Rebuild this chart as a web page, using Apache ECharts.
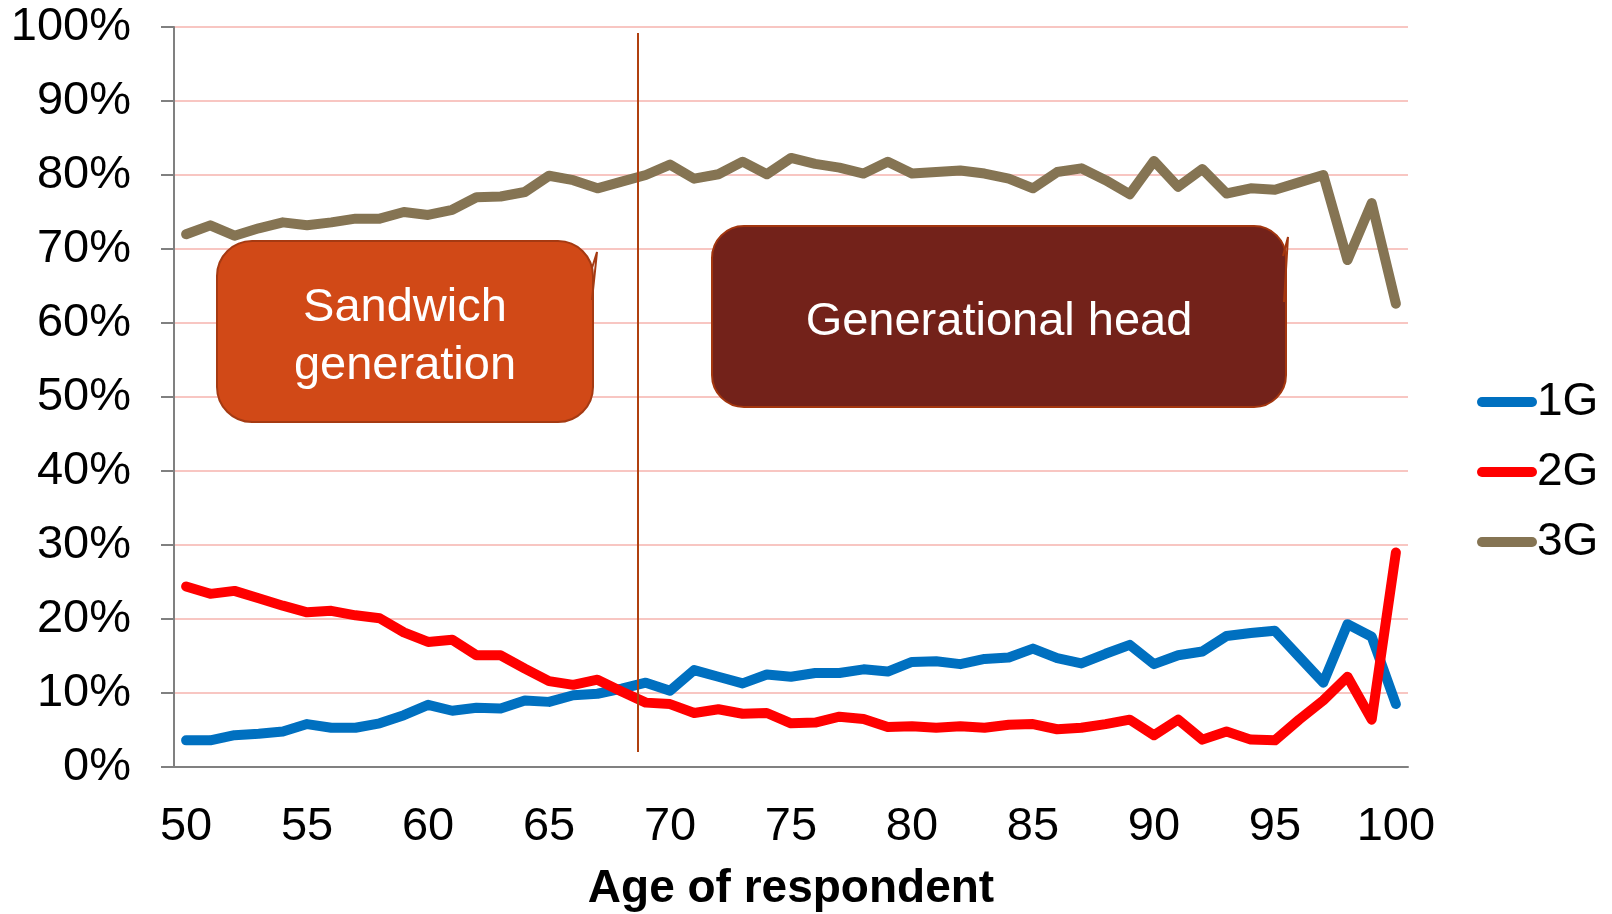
<!DOCTYPE html>
<html>
<head>
<meta charset="utf-8">
<script src="https://cdn.jsdelivr.net/npm/echarts@6/dist/echarts.min.js"></script>
<style>
    html, body { margin: 0; padding: 0; background: #fff; }
    #chart { width: 1612px; height: 914px; }
</style>
</head>
<body>
<div id="chart"></div>
<script>
    // ages on the x axis
    const ages = ['50','51','52','53','54','55','56','57','58','59',
                  '60','61','62','63','64','65','66','67','68','69',
                  '70','71','72','73','74','75','76','77','78','79',
                  '80','81','82','83','84','85','86','87','88','89',
                  '90','91','92','93','94','95','96','97','98','99','100'];

    // share of respondents (%) per generation position
    const gen1 = [3.6, 3.6, 4.3, 4.5, 4.8, 5.8, 5.3, 5.3, 5.9, 7.0,
                  8.4, 7.6, 8.0, 7.9, 9.0, 8.8, 9.7, 9.9, 10.6, 11.4,
                  10.3, 13.1, 12.2, 11.3, 12.5, 12.2, 12.7, 12.7, 13.2, 12.9,
                  14.2, 14.3, 13.9, 14.6, 14.8, 16.0, 14.7, 14.0, 15.3, 16.5,
                  13.9, 15.1, 15.6, 17.7, 18.1, 18.4, 14.9, 11.4, 19.3, 17.6, 8.5];
    const gen2 = [24.4, 23.4, 23.8, 22.8, 21.8, 20.9, 21.1, 20.5, 20.1, 18.2,
                  16.9, 17.2, 15.1, 15.1, 13.3, 11.6, 11.1, 11.8, 10.2, 8.7,
                  8.5, 7.3, 7.8, 7.2, 7.3, 5.9, 6.0, 6.8, 6.5, 5.4,
                  5.5, 5.3, 5.5, 5.3, 5.7, 5.8, 5.1, 5.3, 5.8, 6.4,
                  4.3, 6.4, 3.7, 4.8, 3.7, 3.6, 6.4, 9.0, 12.2, 6.4, 29.0];
    const gen3 = [72.0, 73.2, 71.8, 72.8, 73.6, 73.2, 73.6, 74.1, 74.1, 75.0,
                  74.6, 75.3, 77.0, 77.1, 77.7, 79.9, 79.3, 78.2, 79.1, 80.0,
                  81.4, 79.5, 80.1, 81.8, 80.1, 82.3, 81.5, 81.0, 80.2, 81.8,
                  80.2, 80.4, 80.6, 80.2, 79.5, 78.2, 80.4, 80.9, 79.3, 77.4,
                  81.9, 78.4, 80.8, 77.5, 78.2, 78.0, 79.0, 80.0, 68.5, 76.2, 62.6];

    const seriesNames = ['1G', '2G', '3G'];
    const seriesColors = ['#0070C0', '#FF0000', '#857453'];

    const font = '"Liberation Sans", Arial, sans-serif';
    const chart = echarts.init(document.getElementById('chart'));

    const makeLine = (name, data, color) => ({
        name: name,
        type: 'line',
        data: data,
        symbol: 'none',
        color: color,
        lineStyle: { width: 10, color: color, join: 'round', cap: 'round' }
    });

    const option = {
        animation: false,
        textStyle: { fontFamily: font },
        grid: { left: 174, right: 204, top: 27, bottom: 147, outerBoundsMode: 'none' },
        legend: {
            orient: 'vertical',
            left: 1472,
            top: 374,
            itemWidth: 60,
            itemHeight: 10,
            itemGap: 24,
            icon: 'path://M5,0 H55 A5,5 0 0 1 55,10 H5 A5,5 0 0 1 5,0 Z',
            textStyle: { fontSize: 46, lineHeight: 46, color: '#000', fontFamily: font, padding: [0, 0, 0, -5] },
            data: seriesNames
        },
        xAxis: {
            type: 'category',
            data: ages,
            boundaryGap: true,
            name: 'Age of respondent',
            nameLocation: 'middle',
            nameGap: 99,
            nameTextStyle: { fontSize: 46, fontWeight: 'bold', color: '#000', fontFamily: font },
            axisLine: { lineStyle: { color: '#808080', width: 2 } },
            axisTick: { interval: 0, length: 14, lineStyle: { color: '#808080', width: 2 } },
            axisLabel: { interval: 4, margin: 37, fontSize: 47, color: '#000', fontFamily: font },
            splitLine: { show: false }
        },
        yAxis: {
            type: 'value',
            min: 0,
            max: 100,
            interval: 10,
            axisLine: { show: true, lineStyle: { color: '#808080', width: 2 } },
            axisTick: { show: true, length: 13, lineStyle: { color: '#808080', width: 2 } },
            axisLabel: { formatter: '{value}%', margin: 43, fontSize: 47, color: '#000', fontFamily: font },
            splitLine: { lineStyle: { color: '#F6B3AE', width: 1.5 } }
        },
        graphic: [
            {
                type: 'line', z: 100,
                shape: { x1: 638, y1: 33, x2: 638, y2: 752 },
                style: { stroke: '#B0400F', lineWidth: 2 }
            },
            {
                type: 'rect', z: 100,
                shape: { x: 217, y: 241, width: 376, height: 181, r: 35 },
                style: { fill: '#D14917', stroke: '#A53A12', lineWidth: 2 }
            },
            {
                type: 'polyline', z: 101,
                shape: { points: [[592, 300], [597, 252], [592, 268]] },
                style: { stroke: '#A53A12', lineWidth: 2, fill: null }
            },
            {
                type: 'text', z: 102,
                style: {
                    text: 'Sandwich\ngeneration', x: 405, y: 337,
                    align: 'center', verticalAlign: 'middle',
                    fill: '#fff', fontSize: 47, lineHeight: 58, fontFamily: font
                }
            },
            {
                type: 'rect', z: 100,
                shape: { x: 712, y: 226, width: 574, height: 181, r: 32 },
                style: { fill: '#73221A', stroke: '#A3360F', lineWidth: 2 }
            },
            {
                type: 'polyline', z: 101,
                shape: { points: [[1284, 302], [1288, 237], [1283, 256]] },
                style: { stroke: '#A3360F', lineWidth: 2, fill: null }
            },
            {
                type: 'text', z: 102,
                style: {
                    text: 'Generational head', x: 999, y: 322,
                    align: 'center', verticalAlign: 'middle',
                    fill: '#fff', fontSize: 47, fontFamily: font
                }
            }
        ],
        series: [
            makeLine(seriesNames[0], gen1, seriesColors[0]),
            makeLine(seriesNames[1], gen2, seriesColors[1]),
            makeLine(seriesNames[2], gen3, seriesColors[2])
        ]
    };

    chart.setOption(option);
</script>
</body>
</html>
